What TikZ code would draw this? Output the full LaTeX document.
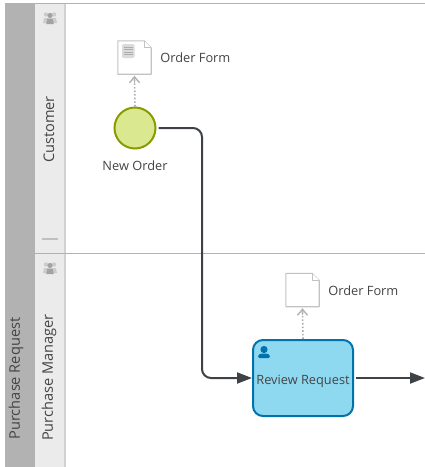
\documentclass[tikz,border=0pt]{standalone}
\usepackage{fontspec}
\setmainfont{Open Sans}
\usetikzlibrary{arrows.meta,positioning}
\definecolor{poolgray}{HTML}{B2B2B2}
\definecolor{lanegray}{HTML}{EBEBEB}
\definecolor{edgegray}{HTML}{D2D2D2}
\definecolor{flowdark}{HTML}{3E4246}
\definecolor{inkgray}{HTML}{444444}
\definecolor{iconblue}{HTML}{0072AC}
\definecolor{startfill}{HTML}{DAE88F}
\definecolor{startedge}{HTML}{8A9A00}
\definecolor{taskfill}{HTML}{8FD9F0}
\newcommand{\peopleicon}[1]{%
  \fill[black!20] (#1)++(-4,-3.5) circle (2.2) ++(-3,8.5) -- ++(1,-5) -- ++(4,0) -- ++(1,5) -- cycle;
  \fill[black!20] (#1)++(4,-3.5) circle (2.2) ++(-3,8.5) -- ++(1,-5) -- ++(4,0) -- ++(1,5) -- cycle;
  \fill[black!36] (#1)++(0,-2.5) circle (2.6) ++(-3.8,8.5) -- ++(1.2,-5.5) -- ++(5.2,0) -- ++(1.2,5.5) -- cycle;
}
\begin{document}
\begin{tikzpicture}[x=1pt, y=-1pt,
    lbl/.style={font=\fontsize{12.8}{14}\selectfont, text=inkgray, inner sep=0pt},
    sidelbl/.style={font=\fontsize{14.6}{16}\selectfont, text=inkgray, inner sep=0pt, rotate=90},
    flow/.style={draw=flowdark, line width=2pt, rounded corners=9pt, -{Triangle[length=15pt,width=11pt]}},
    assoc/.style={draw=black!32, line width=1.6pt, dotted},
    docbox/.style={minimum width=33pt, minimum height=33pt, inner sep=0pt},
    docline/.style={draw=black!24, line width=1.1pt, fill=white, line join=round}]
  \useasboundingbox (0,0) rectangle (425,467);
  % pool and lanes
  \fill[white] (0,0) rectangle (425,467);
  \fill[poolgray] (5,3) rectangle (35,467);
  \fill[lanegray] (35,3) rectangle (64,467);
  \fill[edgegray] (64,3) rectangle (66,467);
  \draw[poolgray, line width=1pt] (5,3.5) -- (425,3.5);
  \draw[poolgray, line width=1pt] (35,253.5) -- (425,253.5);
  \draw[black!25, line width=2pt] (42,238.5) -- (58,238.5);
  \peopleicon{50,18}
  \peopleicon{50,268}
  \node[sidelbl] (pool) at (16,378.5) {Purchase Request};
  \node[sidelbl] (customer) at (49,129.5) {Customer};
  \node[sidelbl] (manager) at (49,377.5) {Purchase Manager};
  % shapes
  \node[circle, draw=startedge, fill=startfill, line width=2pt, minimum size=41pt, inner sep=0pt] (neworder) at (135,128) {};
  \node[lbl] (neworderlbl) at (135,166) {New Order};
  \node[rectangle, rounded corners=10pt, draw=iconblue, fill=taskfill, line width=2pt, minimum width=100pt, minimum height=76pt, inner sep=0pt] (review) at (303,378) {};
  \node[lbl] (reviewlbl) at (303,381) {Review Request};
  \node[docbox] (formA) at (134.5,57.5) {};
  \node[docbox] (formB) at (302.5,290) {};
  \foreach \d in {formA,formB} {
    \draw[docline] (\d.north west) -- ([xshift=-7pt]\d.north east) -- ([yshift=-7pt]\d.north east) -- (\d.south east) -- (\d.south west) -- cycle;
    \draw[docline, line width=0.8pt] ([xshift=-7pt]\d.north east) |- ([yshift=-7pt]\d.north east);
  }
  \node[lbl, right=9pt of formA] (formAlbl) {Order Form};
  \node[lbl, right=9pt of formB, yshift=-1pt] (formBlbl) {Order Form};
  % small sheet on the first form
  \fill[black!14, rounded corners=1.5pt] (122,44) rectangle (134.5,58);
  \foreach \y in {47,49.5,52,54.5} {
    \draw[black!32, line width=0.6pt] (124,\y) -- (132.5,\y);
  }
  % user on the task
  \fill[iconblue] (264,349.5) circle (3.6);
  \fill[iconblue, rounded corners=1.5pt] (258,358) -- (258,355) -- (261,353.5) -- (267,353.5) -- (270,355) -- (270,358) -- cycle;
  % connectors
  \coordinate (exit) at (425,378);
  \draw[flow] ([xshift=2pt]neworder.east) -| (202,378) -- (review.west);
  \draw[flow] ([xshift=2pt]review.east) -- (exit);
  \foreach \a/\b in {neworder/formA,review/formB} {
    \draw[assoc] (\a.north) -- ([yshift=-4pt]\b.south);
    \draw[black!30, line width=1.4pt, {Straight Barb[length=6pt,width=10pt]}-] ([yshift=-1.5pt]\b.south) -- ++(0,7);
  }
\end{tikzpicture}
\end{document}
